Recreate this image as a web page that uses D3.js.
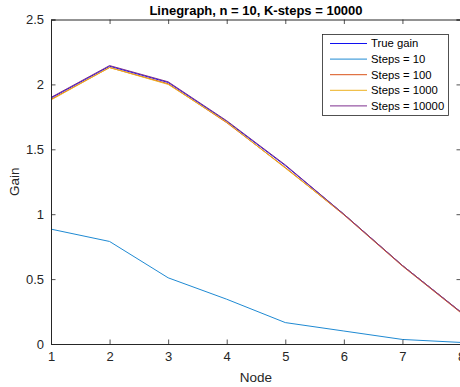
<!DOCTYPE html>
<html><head><meta charset="utf-8">
<script src="https://cdn.jsdelivr.net/npm/d3@7"></script>
<style>body{margin:0;background:#fff;} svg{display:block;font-family:"Liberation Sans",Arial,sans-serif;}</style>
</head><body>
<svg id="c" width="460" height="387"></svg>
<script>
const nodes = [1, 2, 3, 4, 5, 6, 7, 8];
const trueGain   = [1.895, 2.140, 2.015, 1.715, 1.375, 1.000, 0.605, 0.245];
const steps10    = [0.885, 0.790, 0.510, 0.345, 0.165, 0.100, 0.035, 0.012];
const steps100   = [1.885, 2.130, 2.005, 1.705, 1.360, 0.995, 0.600, 0.240];
const steps1000  = [1.880, 2.130, 2.000, 1.710, 1.355, 1.000, 0.605, 0.245];
const steps10000 = [1.900, 2.145, 2.020, 1.720, 1.380, 1.000, 0.605, 0.245];
const seriesNames = ["True gain", "Steps = 10", "Steps = 100", "Steps = 1000", "Steps = 10000"];
const seriesColors = ["#1010f0", "#1f8ad3", "#d95319", "#edb120", "#7e2f8e"];
const xTicks = [1, 2, 3, 4, 5, 6, 7, 8];
const yTicks = [0, 0.5, 1, 1.5, 2, 2.5];
const titleText = "Linegraph, n = 10, K-steps = 10000";

const allSeries = [trueGain, steps10, steps100, steps1000, steps10000];
const L = 51, R = 461, T = 19.5, B = 344;
const svg = d3.select("#c");
const x = d3.scaleLinear().domain([1, 8]).range([L, R]);
const y = d3.scaleLinear().domain([0, 2.5]).range([B, T]);
const ax = "#262626";

// lines
const line = d3.line().x((d, i) => x(nodes[i])).y(d => y(d));
allSeries.forEach((s, k) => {
  svg.append("path").attr("d", line(s)).attr("fill", "none")
    .attr("stroke", seriesColors[k]).attr("stroke-width", 1);
});

// axes
const tl = 4.5;
const gx = svg.append("g").attr("transform", `translate(0,${B})`)
  .call(d3.axisBottom(x).tickValues(xTicks).tickSize(-tl).tickPadding(8).tickFormat(d3.format("d")));
const gxt = svg.append("g").attr("transform", `translate(0,${T})`)
  .call(d3.axisTop(x).tickValues(xTicks).tickSize(-tl).tickFormat(""));
const gy = svg.append("g").attr("transform", `translate(${L},0)`)
  .call(d3.axisLeft(y).tickValues(yTicks).tickSize(-tl).tickPadding(7).tickFormat(d => d3.format("")(d)));
const gyr = svg.append("g").attr("transform", `translate(${R},0)`)
  .call(d3.axisRight(y).tickValues(yTicks).tickSize(-tl).tickFormat(""));
[gx, gxt, gy, gyr].forEach(g => {
  g.select(".domain").attr("stroke", ax).attr("stroke-width", 1);
  g.selectAll(".tick line").attr("stroke", ax).attr("stroke-width", 0.8);
  g.selectAll("text").attr("fill", ax).style("font-size", "13px").style("font-family", '"Liberation Sans",Arial,sans-serif');
});
gx.selectAll("text").attr("dy", "0.71em");

// title and labels
svg.append("text").attr("x", (L + R) / 2).attr("y", 14.5).attr("text-anchor", "middle")
  .style("font-size", "13px").style("font-weight", "bold").attr("fill", "#000").text(titleText);
svg.append("text").attr("x", (L + R) / 2).attr("y", 381.5).attr("text-anchor", "middle")
  .style("font-size", "13.5px").attr("fill", ax).text("Node");
svg.append("text").attr("transform", `translate(19,${(T + B) / 2}) rotate(-90)`).attr("text-anchor", "middle")
  .style("font-size", "13.5px").attr("fill", ax).text("Gain");

// legend
const lg = svg.append("g");
lg.append("rect").attr("x", 322.5).attr("y", 34.5).attr("width", 126).attr("height", 81)
  .attr("fill", "#fff").attr("stroke", ax).attr("stroke-width", 0.8);
seriesNames.forEach((n, i) => {
  const yy = 43.5 + i * 15.6;
  lg.append("line").attr("x1", 330).attr("x2", 367).attr("y1", yy).attr("y2", yy)
    .attr("stroke", seriesColors[i]).attr("stroke-width", 1);
  lg.append("text").attr("x", 371).attr("y", yy).attr("dy", "0.35em")
    .style("font-size", "11.3px").attr("fill", "#000").text(n);
});
</script>
</body></html>
